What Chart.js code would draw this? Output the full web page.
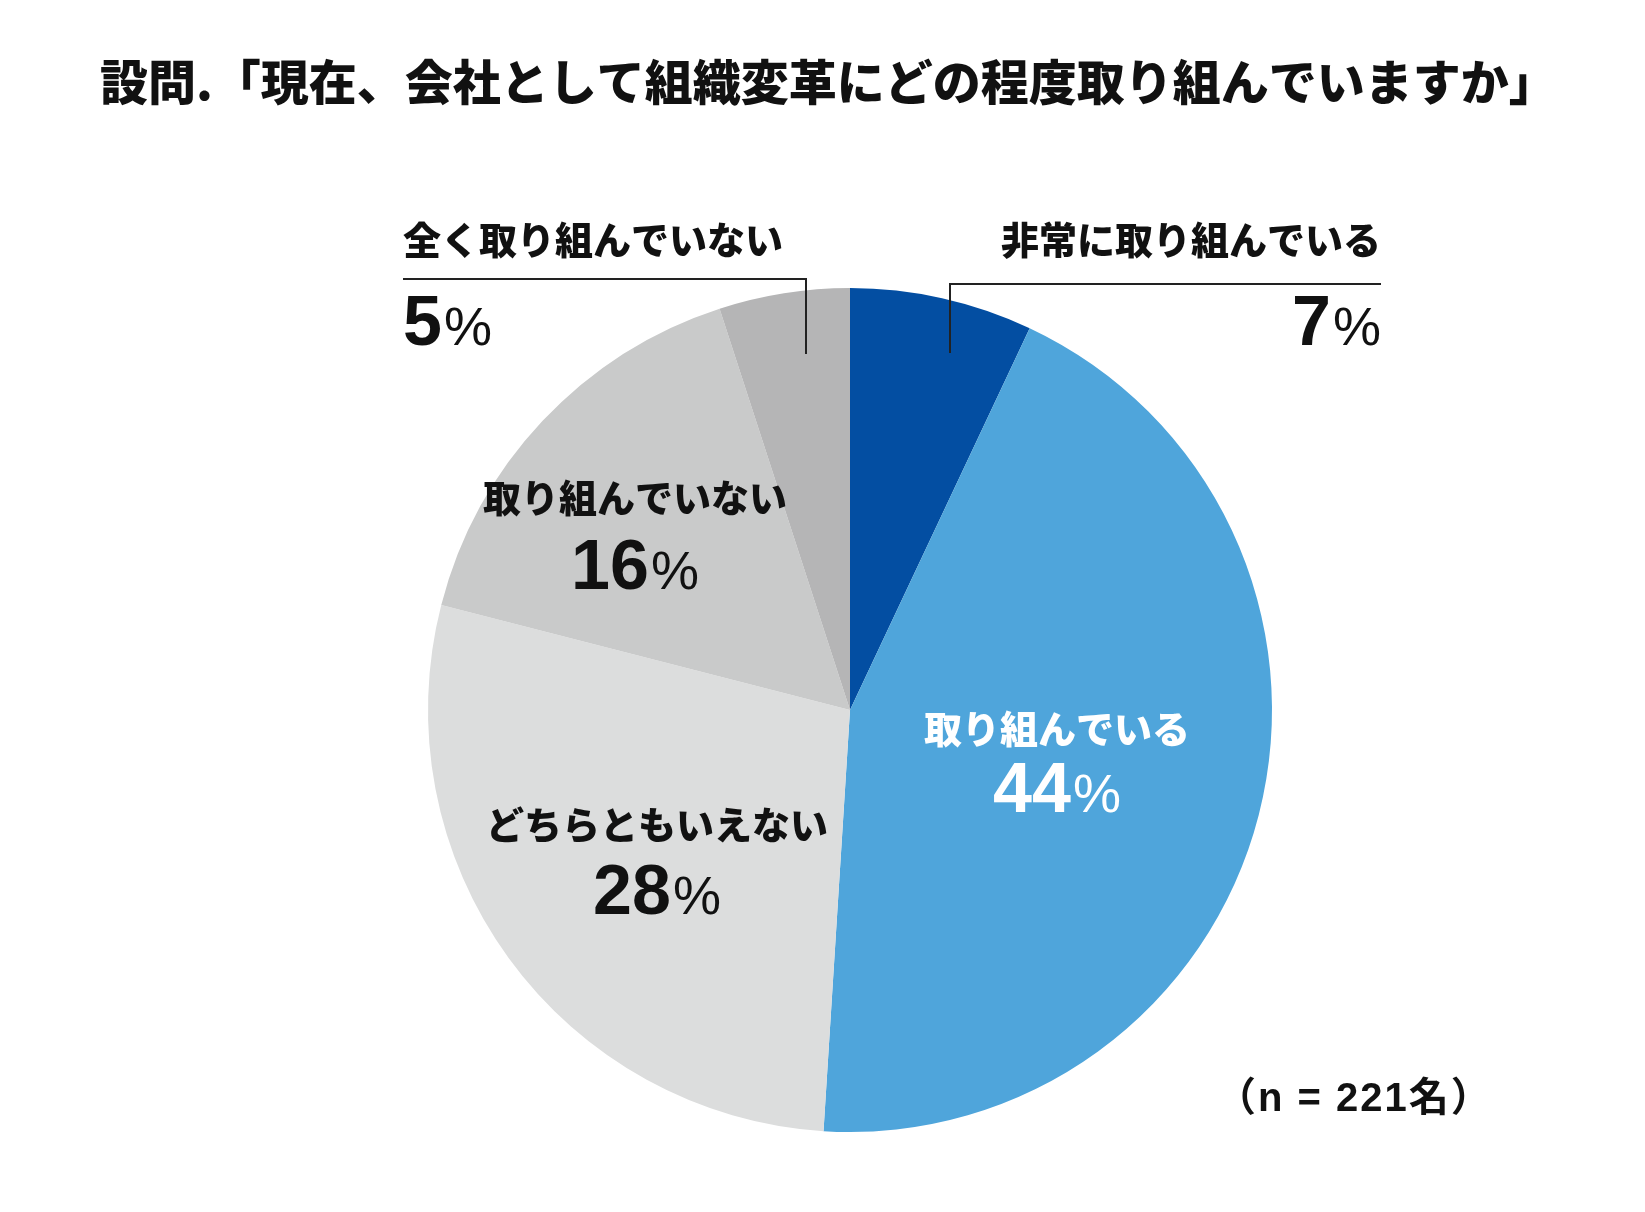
<!DOCTYPE html>
<html><head><meta charset="utf-8">
<script src="https://cdn.jsdelivr.net/npm/chart.js@4.4.1/dist/chart.umd.min.js"></script>
<style>html,body{margin:0;padding:0;background:#fff;}#wrap{width:1645px;height:1212px;position:relative;}</style>
</head><body><div id="wrap"><canvas id="c" width="1645" height="1212"></canvas></div>
<script>
const titleText = '設問.「現在、会社として組織変革にどの程度取り組んでいますか」';
const categories = ['非常に取り組んでいる', '取り組んでいる', 'どちらともいえない', '取り組んでいない', '全く取り組んでいない'];
const percentages = [7, 44, 28, 16, 5];
const sampleNote = '（n = 221名）';
const sliceColors = ['#034ea2', '#4fa5db', '#dcdddd', '#c9caca', '#b5b5b6'];

const JP = '"Noto Sans CJK JP", "Noto Sans", sans-serif';
const NUM = '"Liberation Sans", Arial, sans-serif';

function drawPct(ctx, value, x, y, align, color) {
  const numFont = 'bold 70px ' + NUM;
  const pctFont = '54px ' + NUM;
  ctx.font = numFont; const w1 = ctx.measureText(String(value)).width;
  ctx.font = pctFont; const w2 = ctx.measureText('%').width;
  const gap = 2, total = w1 + gap + w2;
  let x0 = align === 'left' ? x : align === 'right' ? x - total : x - total / 2;
  ctx.fillStyle = color; ctx.textAlign = 'left'; ctx.textBaseline = 'alphabetic';
  ctx.font = numFont; ctx.fillText(String(value), x0, y);
  ctx.font = pctFont; ctx.fillText('%', x0 + w1 + gap, y);
}

const labelPlugin = {
  id: 'labels',
  afterDraw(chart) {
    const ctx = chart.ctx;
    const arc = chart.getDatasetMeta(0).data[0];
    const cx = arc.x, cy = arc.y, k = arc.outerRadius / 422;
    ctx.save();
    // title
    ctx.fillStyle = '#111'; ctx.textBaseline = 'middle'; ctx.textAlign = 'left';
    ctx.font = '900 48px ' + JP;
    ctx.fillText(titleText, 100, 82);
    const nameFont = '900 38px ' + JP;
    // inside labels
    const inside = {1: [207, 19, 102, '#fff'], 2: [-193, 115, 204, '#111'], 3: [-215, -212, -121, '#111']};
    for (const i in inside) {
      const [dx, dy, by, col] = inside[i];
      ctx.font = nameFont; ctx.fillStyle = col; ctx.textAlign = 'center'; ctx.textBaseline = 'middle';
      ctx.fillText(categories[i], cx + dx * k, cy + dy * k);
      drawPct(ctx, percentages[i], cx + dx * k, cy + by * k, 'center', col);
    }
    // outside labels with leader lines
    ctx.strokeStyle = '#222'; ctx.lineWidth = 2;
    // index 4 (left)
    let lx = cx - 447 * k;
    ctx.font = nameFont; ctx.fillStyle = '#111'; ctx.textAlign = 'left'; ctx.textBaseline = 'middle';
    ctx.fillText(categories[4], lx, cy - 470 * k);
    ctx.beginPath(); ctx.moveTo(lx, cy - 431 * k); ctx.lineTo(cx - 44 * k, cy - 431 * k); ctx.lineTo(cx - 44 * k, cy - 356 * k); ctx.stroke();
    drawPct(ctx, percentages[4], lx, cy - 365 * k, 'left', '#111');
    // index 0 (right)
    let rx = cx + 531 * k;
    ctx.font = nameFont; ctx.fillStyle = '#111'; ctx.textAlign = 'right'; ctx.textBaseline = 'middle';
    ctx.fillText(categories[0], rx, cy - 470 * k);
    ctx.beginPath(); ctx.moveTo(rx, cy - 426 * k); ctx.lineTo(cx + 100 * k, cy - 426 * k); ctx.lineTo(cx + 100 * k, cy - 357 * k); ctx.stroke();
    drawPct(ctx, percentages[0], rx, cy - 365 * k, 'right', '#111');
    // sample note
    ctx.font = 'bold 40px "Liberation Sans", "Noto Sans CJK JP", sans-serif'; ctx.fillStyle = '#111'; ctx.textAlign = 'left'; ctx.textBaseline = 'middle';
    if ('letterSpacing' in ctx) ctx.letterSpacing = '2px';
    ctx.fillText(sampleNote, 1216, 1100);
    ctx.restore();
  }
};

new Chart(document.getElementById('c'), {
  type: 'pie',
  data: { labels: categories, datasets: [{ data: percentages, backgroundColor: sliceColors, borderWidth: 0 }] },
  options: {
    responsive: false, animation: false, devicePixelRatio: 1,
    layout: { padding: { left: 428, right: 373, top: 288, bottom: 80 } },
    plugins: { legend: { display: false }, tooltip: { enabled: false }, title: { display: false } }
  },
  plugins: [labelPlugin]
});
</script></body></html>
